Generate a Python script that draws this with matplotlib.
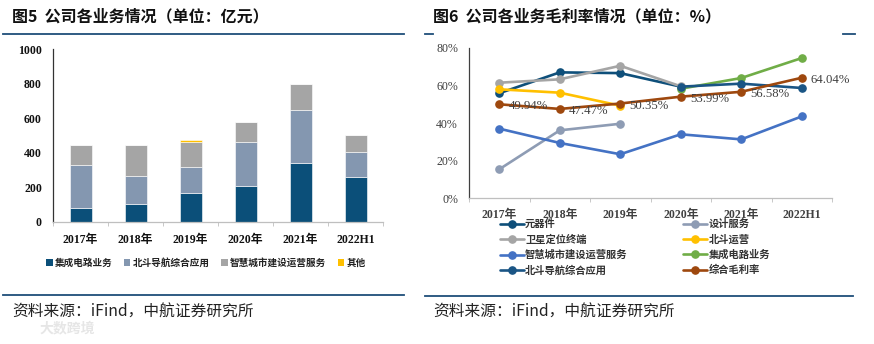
import numpy as np
import matplotlib
matplotlib.use("Agg")
import matplotlib.pyplot as plt
from matplotlib.lines import Line2D
from matplotlib.patches import Patch

plt.rcParams['font.family'] = ['Noto Sans CJK SC', 'DejaVu Sans']

# ---- revenue by business (亿元) ----
rev_years = ['2017年', '2018年', '2019年', '2020年', '2021年', '2022H1']
ic_business = [77, 102, 164, 208, 342, 261]          # 集成电路业务
beidou_app = [251, 164, 154, 252, 305, 143]          # 北斗导航综合应用
smart_city = [114, 176, 145, 117, 148, 96]           # 智慧城市建设运营服务
others = [0, 0, 12, 0, 4, 0]                         # 其他
rev_names = ['集成电路业务', '北斗导航综合应用', '智慧城市建设运营服务', '其他']
rev_colors = ['#0b4f79', '#8497b0', '#a5a5a5', '#ffc000']

# ---- gross margin by business (%) ----
gm_years = ['2017年', '2018年', '2019年', '2020年', '2021年', '2022H1']
nan = np.nan
gm_components = [55.8, 66.9, 66.5, 59.3, nan, nan]       # 元器件
gm_design = [15.4, 36.1, 39.6, nan, nan, nan]            # 设计服务
gm_terminal = [61.4, 63.2, 70.4, 59.5, nan, nan]         # 卫星定位终端
gm_bd_operation = [57.9, 56.1, 49.2, nan, nan, nan]      # 北斗运营
gm_smart_city = [37.0, 29.4, 23.4, 34.0, 31.3, 43.5]     # 智慧城市建设运营服务
gm_ic = [nan, nan, nan, 58.2, 63.9, 74.5]                # 集成电路业务
gm_bd_app = [nan, nan, nan, 59.3, 60.9, 58.6]            # 北斗导航综合应用
gm_total = [49.94, 47.47, 50.35, 53.99, 56.58, 64.04]    # 综合毛利率

gm_series = [
    ('元器件', gm_components, '#0e4f7a'),
    ('设计服务', gm_design, '#8e9cb4'),
    ('卫星定位终端', gm_terminal, '#a5a5a5'),
    ('北斗运营', gm_bd_operation, '#ffc000'),
    ('智慧城市建设运营服务', gm_smart_city, '#4472c4'),
    ('集成电路业务', gm_ic, '#70ad47'),
    ('北斗导航综合应用', gm_bd_app, '#1a5585'),
    ('综合毛利率', gm_total, '#9e480e'),
]

W, H = 874, 344
fig = plt.figure(figsize=(W / 100, H / 100), dpi=100)


def fx(px):
    return px / W


def fy(py):
    return 1 - py / H


SERIF = ['Liberation Serif', 'Noto Sans CJK SC']
NAVY = '#1f4e79'

# ---- header / footer decorations ----
fig.text(fx(12), fy(16), '图5  公司各业务情况（单位：亿元）', fontsize=11.5,
         fontweight='bold', va='center', ha='left', color='#111111')
fig.text(fx(433), fy(16), '图6  公司各业务毛利率情况（单位：%）', fontsize=11.5,
         fontweight='bold', va='center', ha='left', color='#111111')

for x0, x1, y in [(3, 404, 34), (425, 433, 34), (843, 855, 34),
                  (3, 404, 295), (425, 853, 296)]:
    fig.add_artist(Line2D([fx(x0), fx(x1)], [fy(y), fy(y)], color=NAVY, lw=1.3))

fig.text(fx(12), fy(312), '资料来源：iFind，中航证券研究所', fontsize=11.3,
         va='center', ha='left', color='#222222', fontweight='light')
fig.text(fx(433), fy(312), '资料来源：iFind，中航证券研究所', fontsize=11.3,
         va='center', ha='left', color='#222222', fontweight='light')
fig.text(fx(40), fy(328), '大数跨境', fontsize=10, va='center', ha='left',
         color='#e6e6e6', fontweight='bold')

# ---- left: stacked bars ----
ax1 = fig.add_axes([fx(53), fy(221.7), fx(383) - fx(53), fy(49) - fy(221.7)])
x = np.arange(len(rev_years))
bottom = np.zeros(len(rev_years))
for vals, name, col in zip([ic_business, beidou_app, smart_city, others], rev_names, rev_colors):
    ax1.bar(x, vals, width=0.4, bottom=bottom, color=col, label=name,
            edgecolor='white', linewidth=0.4)
    bottom += np.array(vals)
ax1.set_xlim(-0.5, len(rev_years) - 0.5)
ax1.set_ylim(0, 1000)
ax1.set_yticks(range(0, 1001, 200))
ax1.set_xticks(x)
ax1.set_xticklabels(rev_years)
ax1.set_xticks(np.arange(-0.5, len(rev_years)), minor=True)
ax1.tick_params(axis='x', which='major', length=0, pad=9)
ax1.tick_params(axis='x', which='minor', length=3, color='#bfbfbf', direction='out')
ax1.tick_params(axis='y', length=0, pad=8)
for lab in ax1.get_xticklabels() + ax1.get_yticklabels():
    lab.set_family(SERIF)
    lab.set_fontweight('bold')
    lab.set_fontsize(8.5)
    lab.set_color('#111111')
for s in ['top', 'right']:
    ax1.spines[s].set_visible(False)
ax1.spines['left'].set_color('#333333')
ax1.spines['left'].set_linewidth(0.9)
ax1.spines['bottom'].set_color('#bfbfbf')
ax1.spines['bottom'].set_linewidth(0.9)
handles = [Patch(facecolor=c) for c in rev_colors]
fig.legend(handles, rev_names, loc='center', bbox_to_anchor=(fx(206), fy(263)),
           ncol=4, frameon=False, prop={'size': 6.9, 'weight': 'bold'},
           handlelength=0.65, handleheight=0.65, handletextpad=0.25,
           columnspacing=1.2, labelcolor='#222222')

# ---- right: margin lines ----
ax2 = fig.add_axes([fx(469), fy(198.3), fx(832) - fx(469), fy(47.7) - fy(198.3)])
xr = np.arange(len(gm_years))
lines = {}
for name, vals, col in gm_series:
    ln, = ax2.plot(xr, vals, color=col, lw=1.9, marker='o', markersize=5.2,
                   label=name, solid_capstyle='round')
    lines[name] = ln
for xi, v in zip(xr, gm_total):
    ax2.annotate(f'{v:.2f}%', (xi, v), xytext=(6.5, -1.5), textcoords='offset points',
                 ha='left', va='center', fontsize=9.2, color='#404040',
                 family=SERIF)
ax2.set_xlim(-0.5, len(gm_years) - 0.5)
ax2.set_ylim(0, 80)
ax2.set_yticks(range(0, 81, 20))
ax2.set_yticklabels([f'{v}%' for v in range(0, 81, 20)])
ax2.set_xticks(xr)
ax2.set_xticklabels(gm_years)
ax2.set_xticks(np.arange(-0.5, len(gm_years)), minor=True)
ax2.tick_params(axis='x', which='major', length=0, pad=8)
ax2.tick_params(axis='x', which='minor', length=3, color='#bfbfbf', direction='out')
ax2.tick_params(axis='y', length=0, pad=8)
for lab in ax2.get_xticklabels():
    lab.set_family(SERIF)
    lab.set_fontweight('bold')
    lab.set_fontsize(8.5)
    lab.set_color('#404040')
for lab in ax2.get_yticklabels():
    lab.set_family(SERIF)
    lab.set_fontsize(8.6)
    lab.set_color('#404040')
for s in ['top', 'right']:
    ax2.spines[s].set_visible(False)
ax2.spines['left'].set_color('#404040')
ax2.spines['left'].set_linewidth(0.9)
ax2.spines['bottom'].set_color('#bfbfbf')
ax2.spines['bottom'].set_linewidth(0.9)

order = ['元器件', '卫星定位终端', '智慧城市建设运营服务', '北斗导航综合应用',
         '设计服务', '北斗运营', '集成电路业务', '综合毛利率']
fig.legend([lines[n] for n in order], order, loc='upper left',
           bbox_to_anchor=(fx(500), fy(219)), ncol=2, frameon=False,
           prop={'size': 7.4, 'weight': 'bold'}, handlelength=2.3,
           handletextpad=0.15, columnspacing=5.4, labelspacing=0.5,
           labelcolor='#333333', borderpad=0, borderaxespad=0)

fig.savefig('out.png', dpi=100, facecolor='white')
